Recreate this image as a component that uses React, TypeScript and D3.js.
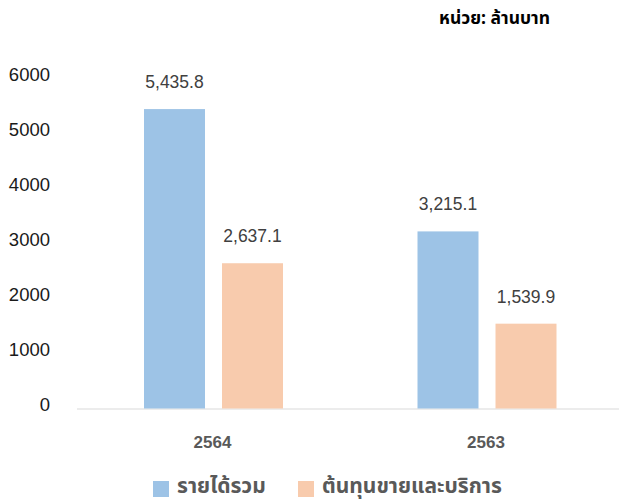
import React from "react";
import * as d3 from "d3";

const categories = ["2564", "2563"];
const seriesNames = ["รายได้รวม", "ต้นทุนขายและบริการ"];
const revenue = [5435.8, 3215.1];
const cost = [2637.1, 1539.9];
const yTicks = [0, 1000, 2000, 3000, 4000, 5000, 6000];
const colors = ["#9DC3E6", "#F8CBAD"];
const unitLabel = "หน่วย: ล้านบาท";

const W = 619;
const H = 501;

export default function App() {
  const x0 = d3.scaleBand().domain(categories).range([76.5, 623.5]).padding(0);
  const x1 = d3.scaleBand().domain(["0", "1"]).range([67.5, 206.5]).paddingInner(0.218).paddingOuter(0);
  const y = d3.scaleLinear().domain([0, 6000]).range([408.5, 78]);
  const series = [revenue, cost];
  const fmt = d3.format(",.1f");
  const thaiFont = "Tahoma, 'Noto Sans Thai', 'Noto Sans', 'DejaVu Sans', sans-serif";
  const arial = "'Liberation Sans', Arial, sans-serif";

  return (
    <svg width={W} height={H} style={{ position: "absolute", left: 0, top: 0 }}>
      <rect width={W} height={H} fill="#fff" />
      <text x={550} y={24} textAnchor="end" fontFamily={thaiFont} fontWeight="bold" fontSize={17.5} fill="#000">
        {unitLabel}
      </text>
      {yTicks.map((t) => (
        <text key={t} x={50} y={y(t) - 2} textAnchor="end" dominantBaseline="middle"
          fontFamily={arial} fontSize={18.5} fill="#1a1a1a">
          {t}
        </text>
      ))}
      <line x1={77} x2={619} y1={409} y2={409} stroke="#d9d9d9" strokeWidth={1.2} />
      {categories.map((c, i) => {
        const cx = ((x1("0") as number) + (x1("1") as number) + x1.bandwidth()) / 2;
        return (
          <g key={c} transform={`translate(${x0(c)},0)`}>
            {series.map((s, j) => (
              <g key={j}>
                <rect x={x1(String(j))} y={y(s[i])} width={x1.bandwidth()} height={y(0) - y(s[i])} fill={colors[j]} />
                <text x={(x1(String(j)) as number) + x1.bandwidth() / 2} y={y(s[i]) - 21} textAnchor="middle"
                  fontFamily={arial} fontSize={17.5} fill="#404040">
                  {fmt(s[i])}
                </text>
              </g>
            ))}
            <text x={cx - 1} y={448} textAnchor="middle"
              fontFamily={arial} fontWeight="bold" fontSize={17} fill="#595959">
              {c}
            </text>
          </g>
        );
      })}
      {seriesNames.map((n, j) => {
        const lx = j === 0 ? 153 : 298;
        return (
          <g key={n}>
            <rect x={lx} y={481} width={16} height={16} fill={colors[j]} />
            <text x={lx + 24} y={493} fontFamily={thaiFont} fontWeight="bold" fontSize={21} fill="#595959">
              {n}
            </text>
          </g>
        );
      })}
    </svg>
  );
}
